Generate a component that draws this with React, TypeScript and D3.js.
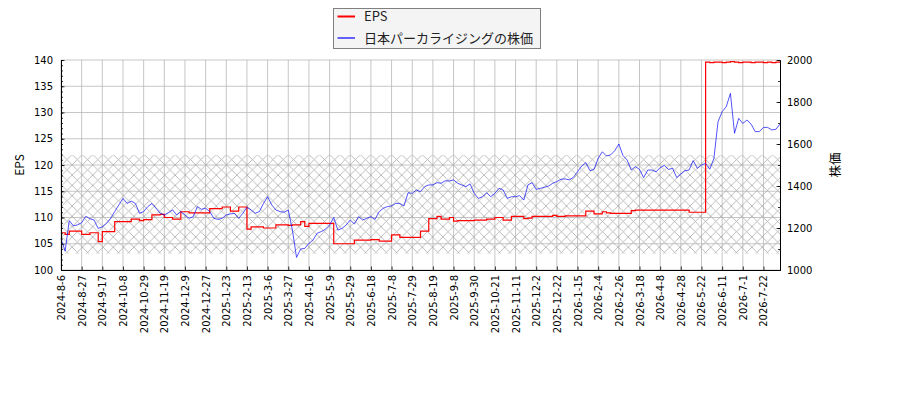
import React, { useEffect, useRef } from 'react';
import * as d3 from 'd3';

// x tick labels, one every 15 trading days
const tickLabels = [
    '2024-8-6', '2024-8-27', '2024-9-17', '2024-10-8', '2024-10-29', '2024-11-19', '2024-12-9',
    '2024-12-27', '2025-1-23', '2025-2-13', '2025-3-6', '2025-3-27', '2025-4-16', '2025-5-9',
    '2025-5-29', '2025-6-18', '2025-7-8', '2025-7-29', '2025-8-19', '2025-9-8', '2025-9-30',
    '2025-10-21', '2025-11-11', '2025-12-2', '2025-12-22', '2026-1-15', '2026-2-4', '2026-2-26',
    '2026-3-18', '2026-4-8', '2026-4-28', '2026-5-22', '2026-6-11', '2026-7-1', '2026-7-22',
];
const TICK_EVERY = 5; // samples between labelled ticks (sample = 3 trading days)

// share price, sampled every 3 trading days
const priceValues = [
    1150, 1090, 1235, 1210, 1215, 1225, 1256, 1244, 1238, 1198,
    1206, 1222, 1246, 1278, 1310, 1341, 1317, 1328, 1317, 1270,
    1278, 1302, 1317, 1294, 1270, 1262, 1273, 1286, 1262, 1278,
    1262, 1246, 1254, 1302, 1289, 1294, 1278, 1246, 1241, 1246,
    1262, 1267, 1270, 1246, 1270, 1298, 1286, 1270, 1278, 1317,
    1349, 1310, 1286, 1278, 1275, 1286, 1190, 1060, 1100, 1103,
    1127, 1143, 1175, 1183, 1194, 1214, 1250, 1190, 1198, 1214,
    1238, 1219, 1254, 1238, 1246, 1254, 1241, 1278, 1294, 1302,
    1305, 1317, 1317, 1305, 1368, 1365, 1381, 1373, 1397, 1405,
    1405, 1416, 1413, 1425, 1424, 1429, 1413, 1405, 1397, 1410,
    1365, 1341, 1349, 1368, 1349, 1365, 1389, 1381, 1341, 1349,
    1349, 1354, 1333, 1405, 1416, 1384, 1389, 1394, 1400, 1413,
    1421, 1432, 1434, 1429, 1441, 1468, 1495, 1511, 1473, 1479,
    1532, 1563, 1543, 1548, 1568, 1600, 1545, 1524, 1476, 1492,
    1479, 1440, 1476, 1476, 1468, 1487, 1498, 1479, 1484, 1440,
    1457, 1473, 1476, 1521, 1484, 1500, 1508, 1480, 1530, 1706,
    1754, 1778, 1841, 1651, 1722, 1698, 1714, 1695, 1659, 1659,
    1679, 1679, 1667, 1670, 1695,
];

// EPS on the same samples
const epsValues = [
    107.1, 106.8, 107.4, 107.4, 107.4, 106.8, 106.8, 107.1, 107.1, 105.4,
    107.3, 107.3, 107.3, 109.2, 109.2, 109.2, 109.2, 109.7, 109.7, 109.4,
    109.6, 109.6, 110.5, 110.5, 110.6, 110.0, 110.0, 109.7, 109.7, 111.1,
    111.1, 110.9, 110.9, 110.9, 110.9, 110.9, 111.7, 111.7, 111.7, 112.0,
    112.0, 111.2, 111.2, 112.0, 112.0, 107.8, 108.2, 108.2, 108.2, 108.0,
    108.0, 108.0, 108.6, 108.6, 108.6, 108.5, 108.6, 108.6, 109.2, 108.3,
    108.9, 108.9, 108.9, 108.9, 108.9, 108.9, 105.0, 105.0, 105.0, 105.0,
    105.0, 105.7, 105.7, 105.7, 105.7, 105.8, 105.8, 105.5, 105.5, 105.5,
    106.7, 106.7, 106.2, 106.2, 106.2, 106.2, 106.2, 107.4, 107.4, 109.8,
    109.8, 110.2, 109.7, 109.7, 110.0, 109.3, 109.4, 109.4, 109.4, 109.4,
    109.5, 109.5, 109.5, 109.7, 109.7, 110.0, 110.0, 109.5, 109.5, 110.2,
    110.2, 110.2, 109.8, 109.9, 110.2, 110.2, 110.2, 110.2, 110.2, 110.4,
    110.2, 110.2, 110.3, 110.3, 110.3, 110.3, 110.3, 111.2, 111.2, 110.7,
    110.7, 111.1, 110.9, 110.8, 110.8, 110.8, 110.8, 110.8, 111.3, 111.4,
    111.4, 111.4, 111.4, 111.4, 111.4, 111.4, 111.4, 111.4, 111.4, 111.4,
    111.4, 111.4, 111.0, 111.0, 111.0, 111.0, 139.6, 139.5, 139.6, 139.6,
    139.5, 139.6, 139.7, 139.6, 139.5, 139.6, 139.6, 139.5, 139.6, 139.6,
    139.5, 139.6, 139.5, 139.6, 139.6,
];

const epsMajorTicks = [100, 105, 110, 115, 120, 125, 130, 135, 140];
const priceMajorTicks = [1000, 1200, 1400, 1600, 1800, 2000];
const hatchBand = [103.1, 121.9]; // EPS units

const App: React.FC = () => {
    const svgRef = useRef<SVGSVGElement | null>(null);

    useEffect(() => {
        const svg = d3.select(svgRef.current);
        svg.selectAll('*').remove();
        const width = 900;
        const height = 400;
        const margin = { top: 60, right: 120, bottom: 130, left: 61 };
        const left = margin.left;
        const right = width - margin.right;
        const top = margin.top;
        const bottom = height - margin.bottom;

        const xScale = d3.scaleLinear().domain([0, priceValues.length - 1]).range([left, right]);
        const yEps = d3.scaleLinear().domain([100, 140]).range([bottom, top]);
        const yPrice = d3.scaleLinear().domain([1000, 2000]).range([bottom, top]);
        const tickPos = tickLabels.map((_, j) => j * TICK_EVERY);

        // hatch pattern
        const size = 10.3;
        const pattern = svg.append('defs')
            .append('pattern')
            .attr('id', 'hatchX')
            .attr('patternUnits', 'userSpaceOnUse')
            .attr('width', size)
            .attr('height', size);
        pattern.append('path')
            .attr('d', `M0,0L${size},${size}M0,${size}L${size},0`)
            .attr('stroke', '#acacac')
            .attr('stroke-width', 0.8)
            .attr('fill', 'none');

        // grid
        const grid = svg.append('g').attr('stroke', '#b8b8b8').attr('stroke-width', 0.8);
        grid.selectAll('line.v')
            .data(tickPos)
            .join('line')
            .attr('x1', (d) => xScale(d)).attr('x2', (d) => xScale(d))
            .attr('y1', top).attr('y2', bottom);
        grid.selectAll('line.h')
            .data(epsMajorTicks)
            .join('line')
            .attr('class', 'h')
            .attr('x1', left).attr('x2', right)
            .attr('y1', (d) => yEps(d)).attr('y2', (d) => yEps(d));

        // hatched band
        svg.append('rect')
            .attr('x', left)
            .attr('y', yEps(hatchBand[1]))
            .attr('width', right - left)
            .attr('height', yEps(hatchBand[0]) - yEps(hatchBand[1]))
            .attr('fill', 'url(#hatchX)');

        // EPS line
        const epsLine = d3.line<number>()
            .x((_, i) => xScale(i))
            .y((d) => yEps(d))
            .curve(d3.curveStepAfter);
        svg.append('path')
            .datum(epsValues)
            .attr('d', epsLine)
            .attr('fill', 'none')
            .attr('stroke', '#ff0000')
            .attr('stroke-width', 1.2);

        // price line
        const priceLine = d3.line<number>()
            .x((_, i) => xScale(i))
            .y((d) => yPrice(d));
        svg.append('path')
            .datum(priceValues)
            .attr('d', priceLine)
            .attr('fill', 'none')
            .attr('stroke', '#0000ff')
            .attr('stroke-opacity', 0.75)
            .attr('stroke-width', 0.9);

        // axes
        const styleAxis = (g: d3.Selection<SVGGElement, unknown, null, undefined>) => {
            g.attr('font-family', 'DejaVu Sans').attr('font-size', 10);
            g.selectAll('.domain').attr('stroke', '#000').attr('stroke-width', 1);
            g.selectAll('.tick line').attr('stroke', '#000').attr('stroke-width', 0.8);
        };

        const xAxis = svg.append('g')
            .attr('transform', `translate(0, ${bottom})`)
            .call(d3.axisBottom(xScale)
                .tickValues(tickPos)
                .tickFormat((_, j) => tickLabels[j])
                .tickSizeInner(-3.5)
                .tickSizeOuter(0));
        styleAxis(xAxis);
        xAxis.selectAll('.tick text')
            .attr('transform', 'rotate(-90)')
            .attr('x', -5)
            .attr('y', 0)
            .attr('dy', '0.35em')
            .attr('text-anchor', 'end');

        const yLeftMinor = svg.append('g')
            .attr('transform', `translate(${left}, 0)`)
            .call(d3.axisLeft(yEps).tickValues(d3.range(100, 141, 1)).tickSize(-2).tickFormat(() => ''));
        styleAxis(yLeftMinor);
        const yLeft = svg.append('g')
            .attr('transform', `translate(${left}, 0)`)
            .call(d3.axisLeft(yEps).tickValues(epsMajorTicks).tickSizeInner(-3.5).tickSizeOuter(0).tickPadding(8));
        styleAxis(yLeft);

        const yRightMinor = svg.append('g')
            .attr('transform', `translate(${right}, 0)`)
            .call(d3.axisRight(yPrice).tickValues(d3.range(1000, 2001, 100)).tickSize(-2).tickFormat(() => ''));
        styleAxis(yRightMinor);
        const yRight = svg.append('g')
            .attr('transform', `translate(${right}, 0)`)
            .call(d3.axisRight(yPrice).tickValues(priceMajorTicks).tickSizeInner(-3.5).tickSizeOuter(0).tickPadding(7).tickFormat(d3.format('d')));
        styleAxis(yRight);

        // axis titles
        svg.append('text')
            .attr('transform', `translate(20, ${(top + bottom) / 2}) rotate(-90)`)
            .attr('text-anchor', 'middle')
            .attr('dy', '0.35em')
            .attr('font-family', 'Noto Sans CJK JP')
            .attr('font-size', 12)
            .text('EPS');
        svg.append('text')
            .attr('transform', `translate(836, ${(top + bottom) / 2}) rotate(-90)`)
            .attr('text-anchor', 'middle')
            .attr('dy', '0.35em')
            .attr('font-family', 'Noto Sans CJK JP')
            .attr('font-size', 12.5)
            .text('株価');

        // legend
        const legend = svg.append('g').attr('transform', 'translate(333.5, 8.5)');
        legend.append('rect')
            .attr('width', 207)
            .attr('height', 40)
            .attr('fill', '#f4f4f4')
            .attr('stroke', '#808080')
            .attr('stroke-width', 1);
        const entries = [
            { label: 'EPS', color: '#ff0000', opacity: 1 },
            { label: '日本パーカライジングの株価', color: '#0000ff', opacity: 0.6 },
        ];
        entries.forEach((e, i) => {
            const cy = 8 + i * 21.5;
            legend.append('line')
                .attr('x1', 4).attr('x2', 21.5)
                .attr('y1', cy).attr('y2', cy)
                .attr('stroke', e.color)
                .attr('stroke-opacity', e.opacity)
                .attr('stroke-width', 2);
            legend.append('text')
                .attr('x', 30.5)
                .attr('y', cy)
                .attr('dy', '0.36em')
                .attr('font-family', 'Noto Sans CJK JP')
                .attr('font-size', 13)
                .attr('fill', '#222')
                .text(e.label);
        });
    }, []);

    return (
        <svg
            ref={svgRef}
            width={900}
            height={400}
            style={{ position: 'absolute', left: 0, top: 0, background: '#fff' }}
        />
    );
};

export default App;
